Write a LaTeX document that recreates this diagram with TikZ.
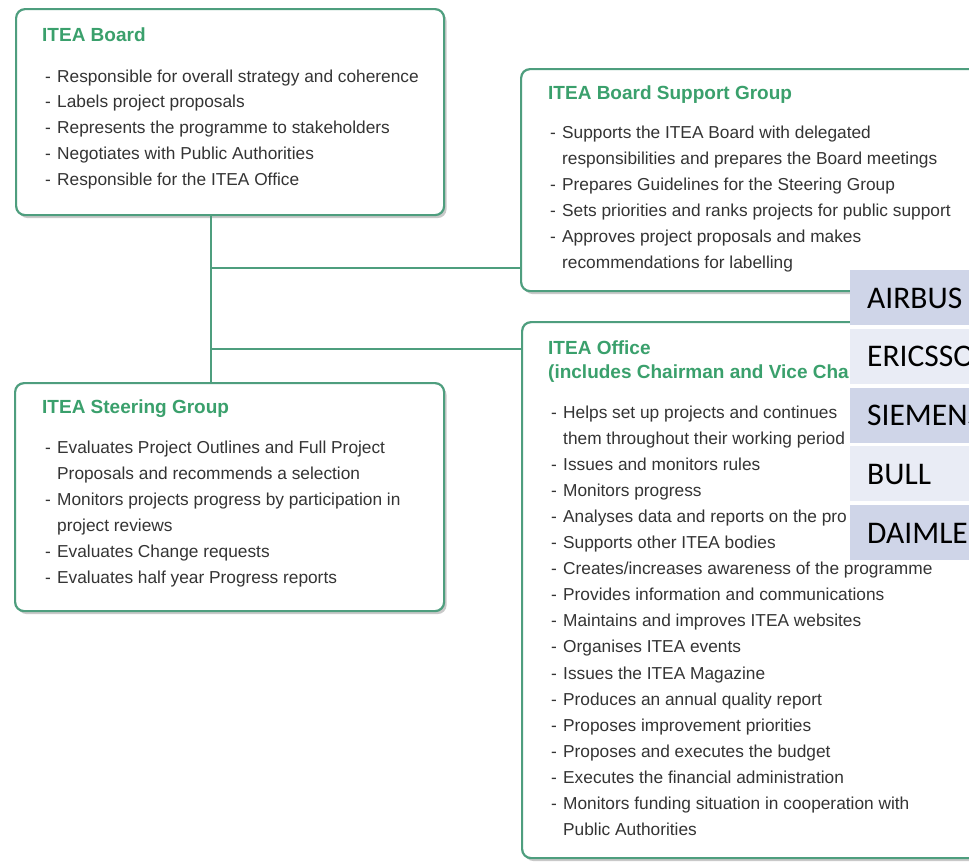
\documentclass[tikz,border=0pt]{standalone}
\usepackage{fontspec}
\setmainfont{Liberation Sans}
\newfontfamily\tabfont{Carlito}
\usetikzlibrary{shadows}
\definecolor{boxgreen}{RGB}{78,158,126}
\definecolor{titlegreen}{RGB}{58,160,108}
\definecolor{bodygray}{RGB}{52,52,52}
\definecolor{rowdark}{RGB}{207,213,232}
\definecolor{rowlight}{RGB}{233,236,245}
\newcommand\itm{\makebox[12pt][l]{-}}
\newcommand\cnt{\hspace*{12pt}}
\begin{document}
\begin{tikzpicture}[x=1pt,y=-1pt,
  panel/.style={draw=boxgreen, line width=2.2pt, rounded corners=9pt, fill=white,
    anchor=north west, inner sep=0pt,
    drop shadow={shadow xshift=2.5pt, shadow yshift=-3pt, opacity=0.35, fill=black!60}},
  heading/.style={anchor=base west, inner sep=0pt, text=titlegreen,
    font=\fontsize{19}{23}\selectfont\bfseries},
  body/.style={anchor=base west, inner sep=0pt, text=bodygray,
    font=\fontsize{17.3}{26}\selectfont},
  link/.style={draw=boxgreen, line width=2pt},
  cell/.style={anchor=north west, inner sep=0pt, minimum width=140pt, minimum height=55pt},
  celltext/.style={anchor=base west, inner sep=0pt, text=black,
    font=\tabfont\fontsize{31.5}{36}\selectfont}]
\useasboundingbox (0,0) rectangle (969,863);
\clip (0,0) rectangle (969,863);
\fill[white] (0,0) rectangle (969,863);

% junction points
\coordinate (j1) at (211,268);
\coordinate (j2) at (211,349);

% panels
\node[panel, minimum width=428pt, minimum height=206pt] (board) at (15,8) {};
\node[panel, minimum width=429pt, minimum height=228pt] (steer) at (14,382) {};
\node[panel, minimum width=500pt, minimum height=222pt] (bsg) at (520,68) {};
\node[panel, minimum width=500pt, minimum height=536pt] (office) at (521,321) {};

% connectors
\draw[link] (board.south -| j1) -- (steer.north -| j1);
\draw[link] (j1) -- (bsg.west |- j1);
\draw[link] (j2) -- (office.west |- j2);

% ITEA Board
\node[heading] (boardh) at (42,41.6) {ITEA Board};
\foreach \t [count=\i] in {
  \itm Responsible for overall strategy and coherence,
  \itm Labels project proposals,
  \itm Represents the programme to stakeholders,
  \itm Negotiates with Public Authorities,
  \itm Responsible for the ITEA Office}
  \node[body] (board-l\i) at (45,{82+25.9*(\i-1)}) {\t};

% ITEA Board Support Group
\node[heading] (bsgh) at (548,99.5) {ITEA Board Support Group};
\foreach \t [count=\i] in {
  \itm Supports the ITEA Board with delegated,
  \cnt responsibilities and prepares the Board meetings,
  \itm Prepares Guidelines for the Steering Group,
  \itm Sets priorities and ranks projects for public support,
  \itm Approves project proposals and makes,
  \cnt recommendations for labelling}
  \node[body] (bsg-l\i) at (550,{138+26.1*(\i-1)}) {\t};

% ITEA Steering Group
\node[heading] (steerh) at (42,413.5) {ITEA Steering Group};
\foreach \t [count=\i] in {
  \itm Evaluates Project Outlines and Full Project,
  \cnt Proposals and recommends a selection,
  \itm Monitors projects progress by participation in,
  \cnt project reviews,
  \itm Evaluates Change requests,
  \itm Evaluates half year Progress reports}
  \node[body] (steer-l\i) at (45,{453+26*(\i-1)}) {\t};

% ITEA Office
\node[heading] (officeh1) at (548,354.6) {ITEA Office};
\node[heading] (officeh2) at (548,378.6) {(includes Chairman and Vice Cha};
\foreach \t [count=\i] in {
  \itm Helps set up projects and continues,
  \cnt them throughout their working period,
  \itm Issues and monitors rules,
  \itm Monitors progress,
  \itm Analyses data and reports on the pro,
  \itm Supports other ITEA bodies,
  \itm Creates/increases awareness of the programme,
  \itm Provides information and communications,
  \itm Maintains and improves ITEA websites,
  \itm Organises ITEA events,
  \itm Issues the ITEA Magazine,
  \itm Produces an annual quality report,
  \itm Proposes improvement priorities,
  \itm Proposes and executes the budget,
  \itm Executes the financial administration,
  \itm Monitors funding situation in cooperation with,
  \cnt Public Authorities}
  \node[body] (office-l\i) at (551,{418+26.1*(\i-1)}) {\t};

% overlay table
\foreach \n/\c [count=\i] in {AIRBUS/rowdark, ERICSSON/rowlight, SIEMENS/rowdark, BULL/rowlight, DAIMLER/rowdark}{
  \node[cell, fill=\c] (row\i) at (850,{270+58.75*(\i-1)}) {};
  \node[celltext] (rowt\i) at (867,{308+58.75*(\i-1)}) {\n};
}
\end{tikzpicture}
\end{document}
